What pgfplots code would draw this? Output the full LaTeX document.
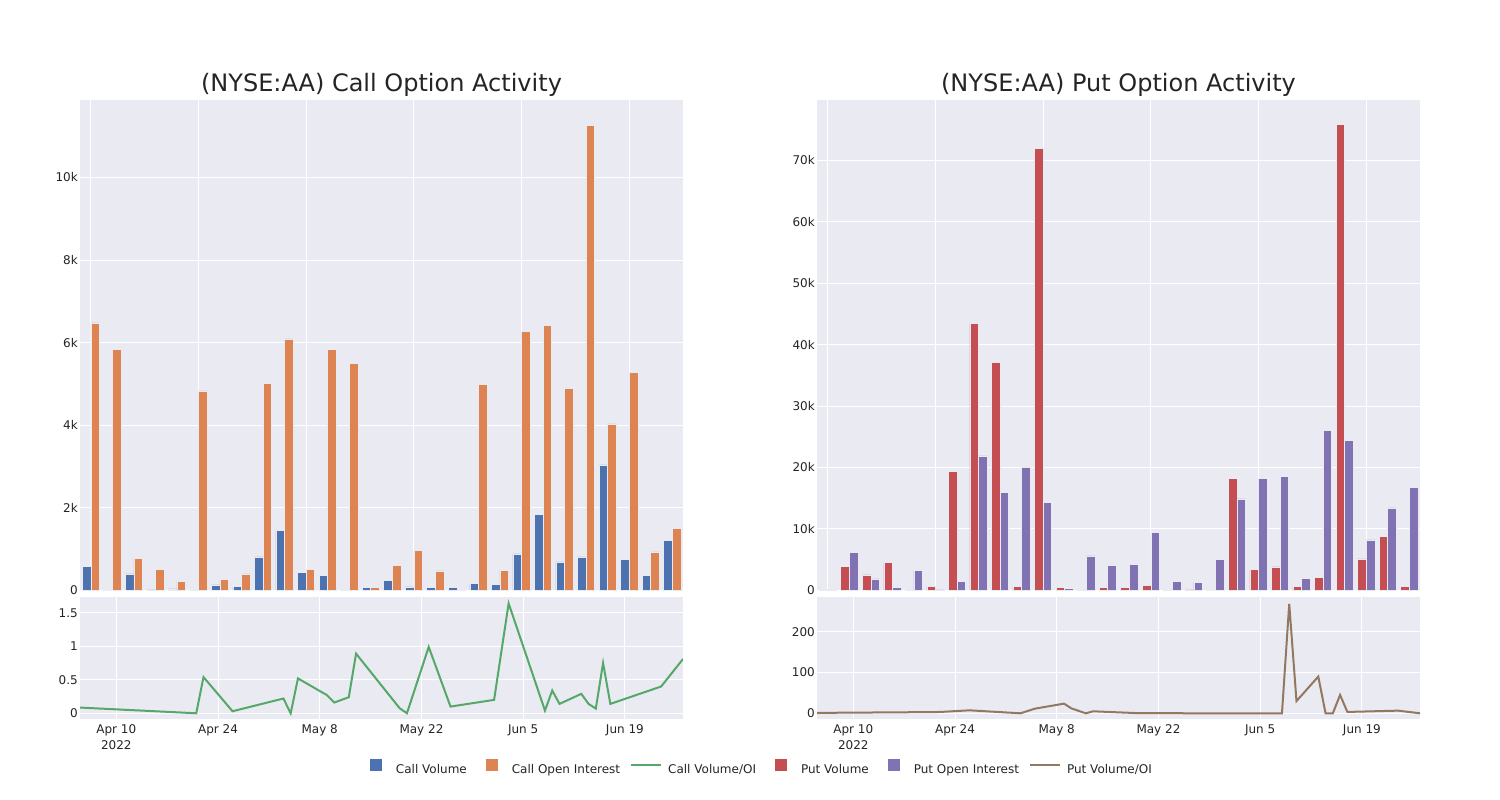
\documentclass[border=0pt]{standalone}
\usepackage{fontspec}
\setmainfont{DejaVu Sans}
\usepackage{pgfplots}
\usepackage{pgfplotstable}
\pgfplotsset{compat=1.18}
\definecolor{bgc}{RGB}{234,234,242}
\definecolor{txt}{RGB}{36,36,36}
\definecolor{cblue}{RGB}{76,114,176}
\definecolor{corange}{RGB}{221,132,82}
\definecolor{cgreen}{RGB}{85,168,104}
\definecolor{cred}{RGB}{196,78,82}
\definecolor{cpurple}{RGB}{129,114,179}
\definecolor{cbrown}{RGB}{147,120,96}

\pgfplotstableread{
cat cv coi
0 580 6480
1 20 5840
2 400 770
3 10 500
4 35 220
5 5 4830
6 130 270
7 90 400
8 810 5020
9 1450 6090
10 440 510
11 360 5830
12 20 5490
13 70 70
14 240 610
15 80 970
16 70 470
17 70 30
18 170 4980
19 150 480
20 880 6270
21 1830 6410
22 690 4890
23 810 11260
24 3040 4030
25 740 5270
26 360 930
27 1210 1500
}\calltab

\pgfplotstableread{
cat pv poi
0 100 100
1 3850 6200
2 2500 1870
3 4560 440
4 150 3200
5 660 50
6 19400 1430
7 43400 21900
8 37100 16000
9 600 20000
10 71950 14300
11 440 270
12 100 5600
13 450 4050
14 500 4200
15 800 9400
16 100 1400
17 50 1350
18 150 5000
19 18200 14900
20 3400 18200
21 3800 18500
22 600 1900
23 2100 26000
24 75800 24400
25 5100 8200
26 8800 13400
27 600 16800
}\puttab

\pgfplotstableread{
day r
-5 0.085
11 0.0
12 0.54
16 0.03
23 0.22
24 0.0
25 0.52
29 0.27
30 0.16
32 0.24
33 0.89
39 0.075
40 0.0
43 0.99
46 0.10
52 0.20
54 1.64
59 0.04
60 0.34
61 0.14
64 0.29
65 0.14
66 0.07
67 0.75
68 0.14
75 0.40
78 0.81
}\callratio

\pgfplotstableread{
day r
-5 1
11 3
12 3.3
16 7.3
23 0
25 11.4
29 23.7
30 12.2
32 0
33 4.9
39 0.5
40 0.3
43 0.2
46 0.1
52 0.1
54 0.1
59 0.1
60 268
61 30
64 90
65 0
66 0
67 45
68 3.3
75 6.5
78 0
}\putratio

\pgfplotsset{
  panel/.style={
    scale only axis,
    axis background/.style={fill=bgc},
    axis line style={draw=none},
    xmajorgrids, ymajorgrids,
    major grid style={white, line width=1pt},
    major tick length=0pt,
    tick style={draw=none},
    scaled y ticks=false, scaled x ticks=false,
    /pgf/number format/assume math mode=true,
    yticklabel style={font=\fontsize{12}{14}\selectfont, text=txt, inner sep=1pt, xshift=-1pt},
    xticklabel style={font=\fontsize{12}{16}\selectfont, text=txt, align=center, inner sep=0pt, yshift=-5pt},
    every axis title/.style={at={(0.5,1)}, anchor=base, yshift=8pt, font=\fontsize{24}{28}\selectfont, text=txt},
  },
  toppanel/.style={panel, width=603pt, height=490.3pt, xmin=-0.5, xmax=27.5, ymin=0,
    xtick={0,5,10,15,20,25}, xticklabels={{},{},{},{},{},{}}},
  botpanel/.style={panel, width=603pt, height=122.6pt, xmin=-5, xmax=78,
    xtick={0,14,28,42,56,70},
    xticklabels={{Apr 10\\2022},{Apr 24},{May 8},{May 22},{Jun 5},{Jun 19}}},
  barA/.style={ybar, bar width=0.4, bar shift=-0.2, draw=bgc, line width=0.5pt},
  barB/.style={ybar, bar width=0.4, bar shift=0.2, draw=bgc, line width=0.5pt},
  legsq/.style={legend image code/.code={\fill (0pt,-2pt) rectangle (12pt,10pt);}},
  legln/.style={legend image code/.code={\draw[line width=2pt] (0pt,4pt) -- (30pt,4pt);}},
}

\begin{document}
\begin{tikzpicture}[x=1pt,y=1pt]
\useasboundingbox (0,0) rectangle (1500,800);

% Call top
\begin{axis}[toppanel, at={(80pt,209.7pt)}, anchor=south west,
  ymax=11877, ytick={0,2000,4000,6000,8000,10000},
  yticklabels={0,2k,4k,6k,8k,10k},
  title={(NYSE:AA) Call Option Activity}]
\addplot[barA, fill=cblue] table[x=cat, y=cv] {\calltab};
\addplot[barB, fill=corange] table[x=cat, y=coi] {\calltab};
\end{axis}

% Call bottom
\begin{axis}[botpanel, at={(80pt,80.7pt)}, anchor=south west,
  ymin=-0.09, ymax=1.74, ytick={0,0.5,1,1.5}, yticklabels={0,0.5,1,1.5}]
\addplot[cgreen, line width=2pt] table[x=day, y=r] {\callratio};
\end{axis}

% Put top
\begin{axis}[toppanel, at={(817pt,209.7pt)}, anchor=south west,
  ymax=79820, ytick={0,10000,20000,30000,40000,50000,60000,70000},
  yticklabels={0,10k,20k,30k,40k,50k,60k,70k},
  title={(NYSE:AA) Put Option Activity}]
\addplot[barA, fill=cred] table[x=cat, y=pv] {\puttab};
\addplot[barB, fill=cpurple] table[x=cat, y=poi] {\puttab};
\end{axis}

% Put bottom + legend
\begin{axis}[botpanel, at={(817pt,80.7pt)}, anchor=south west,
  ymin=-14.7, ymax=285.8, ytick={0,100,200}, yticklabels={0,100,200},
  legend columns=6,
  legend cell align=left,
  legend style={draw=none, fill=none, inner sep=0pt, outer sep=0pt,
    at={(-0.7413,-0.389)}, anchor=west,
    font=\fontsize{12}{14}\selectfont, text=txt,
    nodes={inner sep=0pt},
    /tikz/every even column/.append style={column sep=10pt}}]
\addlegendimage{legsq, fill=cblue, draw=none}
\addlegendentry{\hspace*{14pt}Call Volume\hspace*{9pt}}
\addlegendimage{legsq, fill=corange, draw=none}
\addlegendentry{\hspace*{14pt}Call Open Interest}
\addlegendimage{legln, draw=cgreen}
\addlegendentry{\hspace*{6pt}Call Volume/OI\hspace*{9pt}}
\addlegendimage{legsq, fill=cred, draw=none}
\addlegendentry{\hspace*{14pt}Put Volume\hspace*{9pt}}
\addlegendimage{legsq, fill=cpurple, draw=none}
\addlegendentry{\hspace*{14pt}Put Open Interest}
\addlegendimage{legln, draw=cbrown}
\addlegendentry{\hspace*{6pt}Put Volume/OI}
\addplot[cbrown, line width=2pt, forget plot] table[x=day, y=r] {\putratio};
\end{axis}
\end{tikzpicture}
\end{document}
